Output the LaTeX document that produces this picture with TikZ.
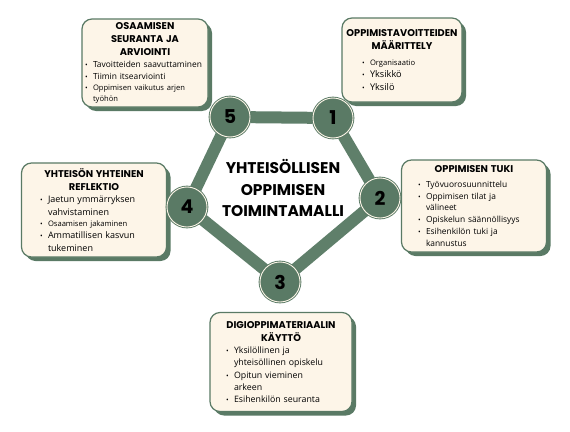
\documentclass[tikz,border=0pt]{standalone}
\usepackage{fontspec}
\setmainfont{Open Sans}
\newfontfamily\otsfont{Poppins}
\usetikzlibrary{shadows,backgrounds}
\definecolor{kehys}{HTML}{5A7A65}
\definecolor{pohja}{HTML}{FDF5E8}
\definecolor{viiva}{HTML}{5F7F6A}
\newcommand{\otsikko}[1]{{\otsfont\bfseries\fontsize{9.8}{13}\selectfont\noindent\makebox[\hsize]{#1}\par}}
\newcommand{\kohta}[1]{{\par\noindent\hangindent=8pt\hangafter=1\makebox[8pt][l]{\scriptsize\textbullet}#1\par}}
\newcommand{\pieni}{\fontsize{7.6}{11}\selectfont}
\newcommand{\iso}{\fontsize{9.2}{12.5}\selectfont}
\begin{document}
\begin{tikzpicture}[x=1pt,y=-1pt,
  laatikko/.style={rectangle, rounded corners=10pt, draw=kehys, line width=1.2pt, fill=pohja,
    drop shadow={shadow xshift=4pt, shadow yshift=-4pt, fill=kehys, opacity=1},
    align=left, inner sep=3pt, font=\fontsize{8.4}{11.8}\selectfont},
  pallo/.style={circle, minimum size=40pt, fill=kehys, draw=kehys, double=pohja,
    double distance=0.9pt, line width=0.9pt, text=black,
    font=\otsfont\bfseries\fontsize{19}{19}\selectfont},
  yhteys/.style={line width=12pt, draw=viiva}]
	\useasboundingbox (0,0) rectangle (570,431);%koko kuva

	\node[laatikko, inner ysep=1pt, minimum width=126pt, minimum height=88pt, text width=120pt] (b5) at (145,63) {%
		\otsikko{OSAAMISEN}\otsikko{SEURANTA JA}\otsikko{ARVIOINTI}
		\kohta{Tavoitteiden saavuttaminen}
		\kohta{Tiimin itsearviointi}
		\kohta{\pieni Oppimisen vaikutus arjen\newline työhön}};%seuranta
	\node[laatikko, minimum width=120pt, minimum height=84pt, text width=80pt] (b1) at (402,60) {%
		\otsikko{OPPIMISTAVOITTEIDEN}\otsikko{MÄÄRITTELY}\vspace{5pt}
		\kohta{\pieni Organisaatio}
		\kohta{\iso Yksikkö}
		\kohta{\iso Yksilö}};%tavoitteet
	\node[laatikko, minimum width=145pt, minimum height=92pt, text width=112pt] (b2) at (474,206) {%
		\otsikko{OPPIMISEN TUKI}\vspace{3pt}
		\kohta{Työvuorosuunnittelu}
		\kohta{Oppimisen tilat ja\newline välineet}
		\kohta{Opiskelun säännöllisyys}
		\kohta{Esihenkilön tuki ja\newline kannustus}};%tuki
	\node[laatikko, minimum width=145pt, minimum height=94pt, text width=108pt] (b4) at (94,210) {%
		\otsikko{YHTEISÖN YHTEINEN}\otsikko{REFLEKTIO}
		\kohta{\fontsize{9}{12.5}\selectfont Jaetun ymmärryksen\newline vahvistaminen}
		\kohta{\pieni Osaamisen jakaminen}
		\kohta{\fontsize{9}{12.5}\selectfont Ammatillisen kasvun\newline tukeminen}};%reflektio
	\node[laatikko, minimum width=142pt, minimum height=99pt, text width=110pt] (b3) at (281,362) {%
		\otsikko{DIGIOPPIMATERIAALIN}\otsikko{KÄYTTÖ}
		\kohta{\fontsize{8.8}{12.2}\selectfont Yksilöllinen ja\newline yhteisöllinen opiskelu}
		\kohta{\fontsize{8.8}{12.2}\selectfont Opitun vieminen\newline arkeen}
		\kohta{\fontsize{8.8}{12.2}\selectfont Esihenkilön seuranta}};%digi

	\node[pallo] (p1) at (333,118) {1};
	\node[pallo] (p2) at (380,198) {2};
	\node[pallo] (p3) at (280,282) {3};
	\node[pallo] (p4) at (187,207) {4};
	\node[pallo] (p5) at (230,117) {5};

	\node[align=center, font=\otsfont\bfseries\fontsize{15.5}{21.5}\selectfont] (malli) at (283,188)
		{YHTEISÖLLISEN\\OPPIMISEN\\TOIMINTAMALLI};%keskusteksti

	\begin{scope}[on background layer]
	\fill[white] (0,0) rectangle (570,431);%tausta
	\draw[yhteys] (p5) -- (p1);
	\draw[yhteys] (p1) -- (p2);
	\draw[yhteys] (p2) -- (p3);
	\draw[yhteys] (p3) -- (p4);
	\draw[yhteys] (p4) -- (p5);
	\end{scope}
\end{tikzpicture}
\end{document}
